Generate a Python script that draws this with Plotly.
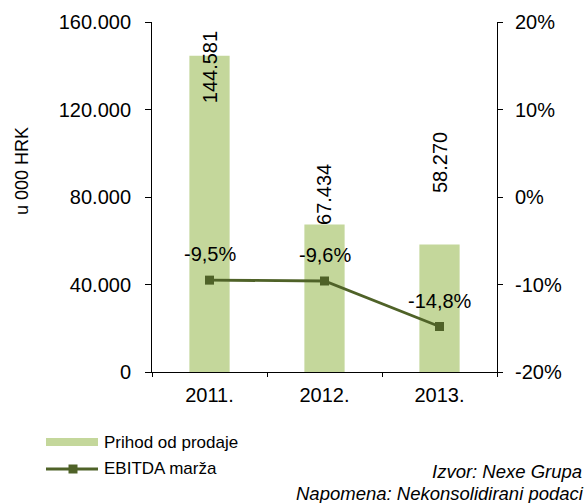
import plotly.graph_objects as go

years = ["2011.", "2012.", "2013."]
revenue = [144581, 67434, 58270]
ebitda_margin = [-9.5, -9.6, -14.8]
left_ticks = [0, 40000, 80000, 120000, 160000]
left_ticktext = ["0", "40.000", "80.000", "120.000", "160.000"]
right_ticks = [-20, -10, 0, 10, 20]
right_ticktext = ["-20%", "-10%", "0%", "10%", "20%"]

BAR_COLOR = "#C4D79B"
LINE_COLOR = "#4F6228"
FONT = "Liberation Sans, Arial, Helvetica, sans-serif"

W, H = 587, 503
L, R, T, B = 152, 90, 22, 131
PW, PH = W - L - R, H - T - B


def px(x):
    return (x - L) / PW


def py(y):
    return (H - B - y) / PH


fig = go.Figure()
fig.add_trace(go.Bar(x=years, y=revenue, marker=dict(color=BAR_COLOR, line=dict(width=0)),
                     width=0.35, name="Prihod od prodaje", showlegend=False))
fig.add_trace(go.Scatter(x=years, y=ebitda_margin, yaxis="y2", mode="lines+markers",
                         line=dict(color=LINE_COLOR, width=2.8),
                         marker=dict(symbol="square", size=9, color=LINE_COLOR),
                         name="EBITDA marža", showlegend=False))

annotations = []
# bar value labels
bar_shifts = [-12, 30, 82]
for i, (v, s) in enumerate(zip(revenue, bar_shifts)):
    annotations.append(dict(x=i, y=v, xref="x", yref="y", text=f"{v:,}".replace(",", "."),
                            textangle=-90, showarrow=False, yanchor="middle", xanchor="center",
                            yshift=s, font=dict(size=20, color="black", family=FONT)))
# line value labels
for i, v in enumerate(ebitda_margin):
    annotations.append(dict(x=i, y=v, xref="x", yref="y2",
                            text=(f"{v:.1f}".replace(".", ",") + "%"),
                            showarrow=False, yanchor="middle", xanchor="center", yshift=26,
                            font=dict(size=20, color="black", family=FONT)))
# axis title
annotations.append(dict(x=px(22), y=py(171), xref="paper", yref="paper", text="u 000 HRK",
                        textangle=-90, showarrow=False, xanchor="center", yanchor="middle",
                        font=dict(size=18, color="black", family=FONT)))
# legend texts
annotations.append(dict(x=px(102), y=py(442), xref="paper", yref="paper", text="Prihod od prodaje",
                        showarrow=False, xanchor="left", yanchor="middle",
                        font=dict(size=17, color="black", family=FONT)))
annotations.append(dict(x=px(102), y=py(468), xref="paper", yref="paper", text="EBITDA marža",
                        showarrow=False, xanchor="left", yanchor="middle",
                        font=dict(size=17, color="black", family=FONT)))
# notes
annotations.append(dict(x=px(584), y=py(472), xref="paper", yref="paper", text="<i>Izvor: Nexe Grupa</i>",
                        showarrow=False, xanchor="right", yanchor="middle",
                        font=dict(size=18.5, color="black", family=FONT)))
annotations.append(dict(x=px(586), y=py(493), xref="paper", yref="paper",
                        text="<i>Napomena: Nekonsolidirani podaci</i>",
                        showarrow=False, xanchor="right", yanchor="middle",
                        font=dict(size=18.5, color="black", family=FONT)))

shapes = [
    dict(type="rect", xref="paper", yref="paper", x0=px(46), x1=px(98), y0=py(438), y1=py(446),
         fillcolor=BAR_COLOR, line=dict(width=0)),
    dict(type="line", xref="paper", yref="paper", x0=px(46), x1=px(98), y0=py(469), y1=py(469),
         line=dict(color=LINE_COLOR, width=2.8)),
    dict(type="rect", xref="paper", yref="paper", x0=px(68.5), x1=px(77.5), y0=py(464.5), y1=py(473.5),
         fillcolor=LINE_COLOR, line=dict(width=0)),
]

fig.update_layout(
    template="none",
    width=W, height=H,
    margin=dict(l=L, r=R, t=T, b=B, pad=0, autoexpand=False),
    paper_bgcolor="white", plot_bgcolor="white",
    font=dict(family=FONT, size=20, color="black"),
    showlegend=False,
    xaxis=dict(type="category", tickson="boundaries", ticks="outside", ticklen=4,
               tickcolor="black", showline=True, linecolor="black", linewidth=1,
               showgrid=False, zeroline=False, tickfont=dict(size=20, color="black"),
               range=[-0.5, 2.5], automargin=False, ticklabelstandoff=5),
    yaxis=dict(range=[0, 160000], tickvals=left_ticks, ticktext=left_ticktext,
               ticks="outside", ticklen=6, tickcolor="black", showline=True,
               linecolor="black", linewidth=1, showgrid=False, zeroline=False,
               tickfont=dict(size=20, color="black"), ticklabelstandoff=10, automargin=False),
    yaxis2=dict(range=[-20, 20], tickvals=right_ticks, ticktext=right_ticktext,
                overlaying="y", side="right", ticks="outside", ticklen=5, tickcolor="black",
                showline=True, linecolor="black", linewidth=1, showgrid=False, zeroline=False,
                tickfont=dict(size=20, color="black"), ticklabelstandoff=8, automargin=False),
    annotations=annotations,
    shapes=shapes,
)

fig.write_html(
    "out.html",
    config={"displayModeBar": False},
    post_script="document.body.style.margin='0';document.body.style.overflow='hidden';",
)
